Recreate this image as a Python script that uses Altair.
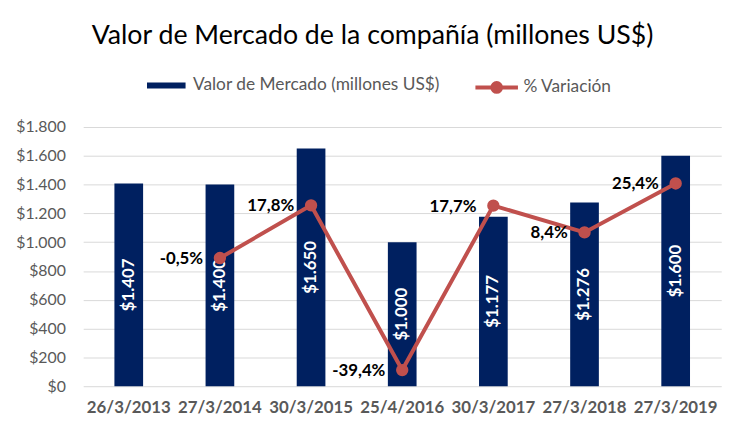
import altair as alt
import pandas as pd

# ---- data ----
fechas = ["26/3/2013", "27/3/2014", "30/3/2015", "25/4/2016", "30/3/2017", "27/3/2018", "27/3/2019"]
valor = [1407, 1400, 1650, 1000, 1177, 1276, 1600]
var_fechas = ["27/3/2014", "30/3/2015", "25/4/2016", "30/3/2017", "27/3/2018", "27/3/2019"]
variacion = [-0.5, 17.8, -39.4, 17.7, 8.4, 25.4]
y_ticks = [0, 200, 400, 600, 800, 1000, 1200, 1400, 1600, 1800]

SERIE_BAR = "Valor de Mercado (millones US$)"
SERIE_LINE = "% Variación"
NAVY = "#002060"
RED = "#C0504D"
GREY = "#595959"
FONT = "Lato"


def money(v):
    return "$" + f"{v:,.0f}".replace(",", ".")


def pct(v):
    return f"{v:.1f}".replace(".", ",") + "%"


df_bar = pd.DataFrame({
    "fecha": fechas,
    "valor": valor,
    "etiqueta": [money(v) for v in valor],
    "serie": SERIE_BAR,
})
df_line = pd.DataFrame({
    "fecha": var_fechas,
    "pct": variacion,
    "etiqueta": [pct(v) for v in variacion],
    "serie_l": SERIE_LINE,
})

x_enc = alt.X(
    "fecha:N",
    sort=fechas,
    scale=alt.Scale(paddingInner=0, paddingOuter=0),
    axis=alt.Axis(
        title=None, labelAngle=0, labelFont=FONT, labelFontSize=17, labelFontWeight="bold",
        labelColor=GREY, ticks=False, tickSize=0, domain=False, labelPadding=14, grid=False,
    ),
)

bar_shape = "M-0.795,-0.14H0.977V0.14H-0.795Z"
line_shape = "M-0.977,0H0.977M-0.2,0A0.2,0.2,0,1,1,0.2,0A0.2,0.2,0,1,1,-0.2,0"

legend_common = dict(
    title=None,
    orient="none",
    direction="horizontal",
    labelFont=FONT,
    labelFontSize=17.5,
    labelColor=GREY,
    labelLimit=400,
    symbolSize=1936,
    padding=0,
    symbolOpacity=1,
)

bars = alt.Chart(df_bar).mark_bar(size=29).encode(
    x=x_enc,
    y=alt.Y(
        "valor:Q",
        scale=alt.Scale(domain=[0, 1800], nice=False),
        axis=alt.Axis(
            title=None, values=y_ticks, labelFont=FONT, labelFontSize=16, labelColor=GREY,
            labelExpr="'$' + replace(format(datum.value, ','), ',', '.')",
            ticks=False, tickSize=0, domain=False, labelPadding=18,
            grid=True, gridColor="#d9d9d9", gridWidth=1,
        ),
    ),
    color=alt.Color(
        "serie:N",
        scale=alt.Scale(domain=[SERIE_BAR], range=[NAVY]),
        legend=alt.Legend(legendX=60, legendY=-64, symbolType=bar_shape, labelOffset=7,
                          symbolStrokeWidth=0, **legend_common),
    ),
)

bar_text = alt.Chart(df_bar).transform_calculate(
    mitad="datum.valor / 2"
).mark_text(
    angle=270, font=FONT, fontSize=17, fontWeight="bold", color="white",
    align="center", baseline="middle",
).encode(
    x=x_enc,
    y=alt.Y("mitad:Q", scale=alt.Scale(domain=[0, 1800], nice=False), axis=None),
    text="etiqueta:N",
)

line = alt.Chart(df_line).mark_line(
    strokeWidth=4,
    point=alt.OverlayMarkDef(filled=True, size=110, fill=RED, stroke=RED, opacity=1),
).encode(
    x=x_enc,
    y=alt.Y("pct:Q", scale=alt.Scale(domain=[-45, 45], nice=False, zero=False), axis=None),
    stroke=alt.Stroke(
        "serie_l:N",
        scale=alt.Scale(domain=[SERIE_LINE], range=[RED]),
        legend=alt.Legend(legendX=394, legendY=-64, symbolType=line_shape, labelOffset=3,
                          symbolStrokeWidth=4, symbolFillColor=RED, **legend_common),
    ),
)

line_text = alt.Chart(df_line).mark_text(
    font=FONT, fontSize=17, fontWeight="bold", color="black",
    align="right", baseline="middle", dx=-17, dy=1,
).encode(
    x=x_enc,
    y=alt.Y("pct:Q", scale=alt.Scale(domain=[-45, 45], nice=False, zero=False), axis=None),
    text="etiqueta:N",
)

chart = alt.layer(bars, bar_text, line, line_text).resolve_scale(
    y="independent"
).properties(
    width=645,
    height=262,
    autosize=alt.AutoSizeParams(type="none"),
    padding={"left": 76, "top": 118, "right": 23, "bottom": 44},
    background="white",
    title=alt.Title(
        "Valor de Mercado de la compañía (millones US$)",
        font=FONT, fontSize=27, fontWeight="normal", color="black",
        anchor="middle", dx=-30, offset=14,
    ),
).configure_view(stroke=None)

chart.save("out.html", embed_options={"renderer": "svg", "actions": False})
